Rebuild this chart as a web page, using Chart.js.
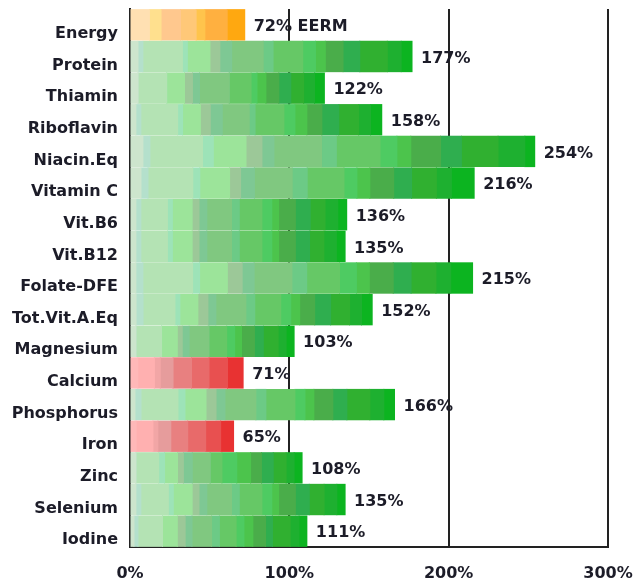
<!DOCTYPE html>
<html>
<head>
<meta charset="utf-8">
<script src="https://cdn.jsdelivr.net/npm/chart.js@4/dist/chart.umd.min.js"></script>
<style>
  html, body { margin: 0; padding: 0; background: #ffffff; }
  #wrap { width: 635px; height: 585px; }
</style>
</head>
<body>
<div id="wrap"><canvas id="chart" width="635" height="585"></canvas></div>
<script>
// Nutrient rows (top to bottom) and the % of requirement each food group supplies
const nutrients = ['Energy', 'Protein', 'Thiamin', 'Riboflavin', 'Niacin.Eq', 'Vitamin C',
  'Vit.B6', 'Vit.B12', 'Folate-DFE', 'Tot.Vit.A.Eq', 'Magnesium', 'Calcium',
  'Phosphorus', 'Iron', 'Zinc', 'Selenium', 'Iodine'];

const energy     = [12.2, 7.3, 12.2, 9.8, 5.5, 14.0, 11.0];
const protein    = [5.0, 3.1, 24.8, 3.1, 14.2, 6.2, 7.4, 19.8, 6.2, 18.6, 8.0, 6.2, 11.1, 10.5, 17.3, 8.7, 6.8];
const thiamin    = [5.0, 0, 18.0, 0, 11.2, 5.0, 4.4, 18.7, 0, 13.7, 3.7, 5.6, 8.1, 7.5, 8.1, 6.8, 6.2];
const riboflavin = [3.7, 3.1, 23.1, 3.1, 11.2, 6.2, 7.5, 16.9, 3.7, 18.1, 6.9, 7.5, 9.4, 10.6, 12.5, 7.5, 7.0];
const niacin     = [8.1, 4.4, 33.0, 6.8, 20.5, 10.0, 7.5, 29.9, 9.3, 27.4, 10.6, 8.7, 18.7, 13.1, 23.0, 16.8, 6.2];
const vitaminC   = [6.9, 4.4, 28.1, 4.4, 18.7, 6.9, 8.7, 23.7, 9.4, 23.1, 8.1, 8.1, 15.0, 11.2, 15.6, 9.4, 14.3];
const vitB6      = [3.7, 3.1, 16.7, 3.1, 12.4, 4.3, 4.9, 15.5, 4.9, 14.2, 6.2, 4.3, 10.5, 9.3, 9.3, 8.0, 5.6];
const vitB12     = [3.7, 3.1, 16.7, 3.1, 12.4, 4.3, 4.9, 15.5, 4.9, 14.2, 6.2, 4.3, 10.5, 8.9, 9.0, 7.8, 5.5];
const folate     = [3.7, 4.4, 31.2, 4.4, 17.4, 9.3, 7.5, 23.7, 9.3, 20.6, 10.6, 8.1, 15.0, 11.2, 15.6, 9.3, 13.7];
const vitA       = [3.8, 4.4, 20.0, 3.1, 11.3, 6.3, 5.0, 18.8, 5.6, 16.3, 6.3, 5.6, 9.4, 10.0, 11.9, 7.5, 6.7];
const magnesium  = [3.7, 0, 16.1, 0, 9.9, 3.1, 4.3, 12.4, 0, 11.2, 5.0, 4.3, 8.1, 5.6, 9.3, 5.0, 5.0];
const calcium    = [4.9, 10.4, 3.7, 8.0, 11.6, 11.0, 11.6, 9.8];
const phosphorus = [3.1, 3.8, 23.2, 4.4, 13.2, 6.3, 5.6, 19.4, 6.3, 18.2, 6.3, 5.6, 11.9, 8.8, 14.4, 8.8, 6.7];
const iron       = [3.8, 10.6, 3.1, 8.1, 10.6, 11.3, 9.4, 8.1];
const zinc       = [3.7, 0, 14.3, 3.7, 8.1, 3.7, 5.6, 11.2, 0, 7.4, 9.3, 8.7, 6.8, 7.4, 8.1, 5.0, 5.0];
const selenium   = [3.7, 3.1, 17.3, 3.1, 11.8, 4.3, 4.9, 15.5, 4.9, 14.2, 6.2, 4.3, 10.5, 8.7, 9.3, 8.0, 5.2];
const iodine     = [2.5, 2.5, 15.4, 0, 9.3, 4.9, 4.3, 12.3, 4.9, 10.5, 4.9, 5.6, 8.0, 4.3, 11.1, 5.6, 4.9];

const rows = [energy, protein, thiamin, riboflavin, niacin, vitaminC, vitB6, vitB12,
  folate, vitA, magnesium, calcium, phosphorus, iron, zinc, selenium, iodine];

const xTicks = [0, 100, 200, 300];
const energyNote = 'EERM';

// Shade ramps: light to dark along each stacked bar
const greens = ['#cde5cd', '#b4e0cc', '#b4e3b4', '#9de3b8', '#9ce49a', '#9cc898', '#7ec894',
  '#80c880', '#6cca86', '#66c866', '#4ecb62', '#4cc44c', '#4aad4a', '#2fae4f', '#30b030',
  '#1eb030', '#0cb420'];
const oranges = ['#ffe0b2', '#ffe08e', '#ffc88e', '#ffc878', '#ffc44c', '#ffb040', '#ffa810'];
const reds = ['#ffb8b8', '#ffb0b0', '#f2a6a6', '#e69c9c', '#e88080', '#e86a6a', '#e85050', '#e83232'];

const totals = rows.map(r => r.reduce((a, b) => a + b, 0));
function palette(idx) {
  if (nutrients[idx] === 'Energy') return oranges;
  return totals[idx] < 100 ? reds : greens;
}

const segCount = Math.max(...rows.map(r => r.length));
const datasets = [];
for (let i = 0; i < segCount; i++) {
  datasets.push({
    data: rows.map(r => r[i] || 0),
    backgroundColor: ctx => palette(ctx.dataIndex)[i] || '#ffffff',
    borderWidth: 0,
    inflateAmount: 0.5,
    barPercentage: 0.96,
    categoryPercentage: 1.0
  });
}

const FONT = { family: 'DejaVu Sans', size: 16, weight: 'bold' };
const INK = '#1c1c28';

// Writes the total at the end of each bar
const totalsLabels = {
  id: 'totalsLabels',
  afterDatasetsDraw(chart) {
    const { ctx, scales: { x, y } } = chart;
    ctx.save();
    ctx.font = `${FONT.weight} ${FONT.size}px "${FONT.family}"`;
    ctx.fillStyle = INK;
    ctx.textAlign = 'left';
    ctx.textBaseline = 'middle';
    totals.forEach((t, i) => {
      let txt = Math.round(t) + '%';
      if (nutrients[i] === 'Energy') txt += ' ' + energyNote;
      ctx.fillText(txt, x.getPixelForValue(t) + 9, y.getPixelForValue(i) + 2);
    });
    ctx.restore();
  }
};

new Chart(document.getElementById('chart'), {
  type: 'bar',
  data: { labels: nutrients, datasets },
  options: {
    indexAxis: 'y',
    responsive: false,
    animation: false,
    layout: { padding: { top: 9, right: 27, left: 0, bottom: 0 } },
    plugins: { legend: { display: false }, tooltip: { enabled: false } },
    scales: {
      x: {
        stacked: true,
        min: 0,
        max: 300,
        afterBuildTicks: s => { s.ticks = xTicks.map(v => ({ value: v })); },
        afterFit: s => { s.height = 38; s.paddingLeft = 0; s.paddingRight = 0; },
        ticks: { callback: v => v + '%', font: FONT, color: INK, padding: 17, maxRotation: 0 },
        grid: { color: '#222222', lineWidth: 2, drawTicks: false },
        border: { color: '#222222', width: 2 }
      },
      y: {
        stacked: true,
        z: 1,
        afterFit: s => { s.width = 130; s.paddingTop = 0; s.paddingBottom = 0; },
        ticks: { font: FONT, color: INK, padding: 12, labelOffset: 9 },
        grid: { display: false, drawTicks: false },
        border: { color: '#222222', width: 2 }
      }
    }
  },
  plugins: [totalsLabels]
});
</script>
</body>
</html>
